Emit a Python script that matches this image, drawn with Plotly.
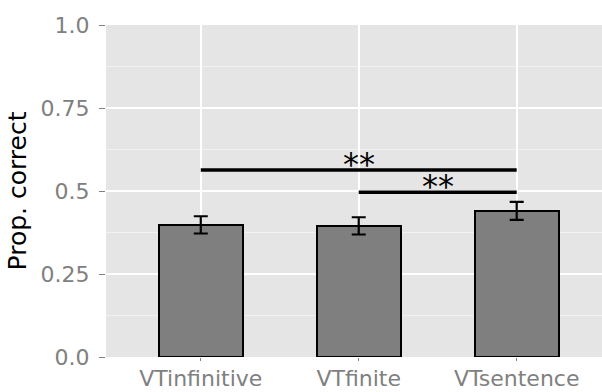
import plotly.graph_objects as go

# Proportion correct per condition, with error bar half-widths
conditions = ["VTinfinitive", "VTfinite", "VTsentence"]
prop_correct = [0.398, 0.395, 0.440]
err = [0.026, 0.026, 0.027]

# Pairwise comparisons (condition indices, bracket height, label)
comp_from = [0, 1]
comp_to = [2, 2]
comp_y = [0.563, 0.496]
comp_label = ["**", "**"]

y_ticks = [0.0, 0.25, 0.5, 0.75, 1.0]
y_tick_text = ["0.0", "0.25", "0.5", "0.75", "1.0"]
y_minor = [0.125, 0.375, 0.625, 0.875]

x_pos = list(range(1, len(conditions) + 1))

fig = go.Figure()
fig.add_trace(go.Bar(
    x=x_pos, y=prop_correct, width=0.53,
    marker=dict(color="#7F7F7F", line=dict(color="black", width=2)),
    error_y=dict(type="data", array=err, color="black", thickness=2.2, width=7),
    showlegend=False,
))

for a, b, h, lab in zip(comp_from, comp_to, comp_y, comp_label):
    xa, xb = x_pos[a], x_pos[b]
    fig.add_trace(go.Scatter(
        x=[xa, xb], y=[h, h], mode="lines",
        line=dict(color="black", width=3.5), showlegend=False, hoverinfo="skip",
    ))
    fig.add_annotation(
        x=(xa + xb) / 2, y=h, text=lab, showarrow=False, yanchor="middle",
        yshift=6, font=dict(family="DejaVu Sans", size=32, color="black"),
    )

fig.update_layout(
    width=602, height=392,
    margin=dict(l=106, r=0, t=25, b=35),
    paper_bgcolor="white", plot_bgcolor="#E5E5E5",
    font=dict(family="DejaVu Sans", color="#808080"),
    bargap=0,
)
fig.update_xaxes(
    range=[0.4, 3.54], tickvals=x_pos, ticktext=conditions,
    showgrid=True, gridcolor="white", gridwidth=1.6,
    ticks="outside", ticklen=3, tickcolor="#808080", tickwidth=1,
    tickfont=dict(size=22, color="#808080"), zeroline=False, showline=False,
    ticklabelstandoff=-1, automargin=False,
)
fig.update_yaxes(
    range=[0, 1], tickvals=y_ticks, ticktext=y_tick_text,
    showgrid=True, gridcolor="white", gridwidth=1.6,
    minor=dict(tickvals=y_minor, showgrid=True, gridcolor="#F2F2F2", gridwidth=1, ticklen=0),
    ticks="outside", ticklen=6, tickcolor="#808080", tickwidth=1,
    tickfont=dict(size=22, color="#808080"), zeroline=False, showline=False,
    ticklabelstandoff=5, automargin=False,
    title=dict(text="Prop. correct", font=dict(size=25, color="black"), standoff=6),
)

fig.write_html("out.html")
